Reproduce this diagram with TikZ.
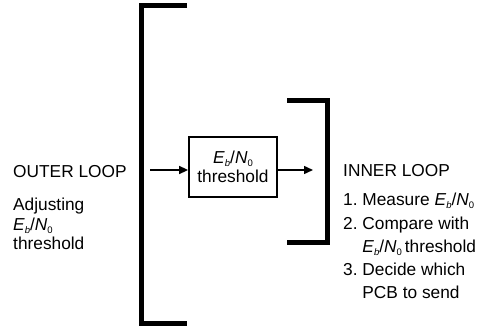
\documentclass[tikz,border=0pt]{standalone}
\usepackage{fontspec}
\setmainfont{Liberation Sans}
\usetikzlibrary{arrows.meta}
\frenchspacing
\newcommand\subsz{\fontsize{9.5}{9.5}\selectfont}
\newcommand\EbNo{\textit{E}\raisebox{-0.35ex}{\subsz\textit{b}}/\textit{N}\raisebox{-0.35ex}{\subsz 0}}
\tikzset{
  bracket/.style={line width=5pt, line cap=butt, line join=miter},
  lbl/.style={anchor=base west, inner sep=0pt, font=\fontsize{17.3}{20}\selectfont},
  blockbox/.style={draw, line width=1.8pt, minimum width=88pt, minimum height=60pt, inner sep=0pt, align=center, font=\fontsize{17.3}{20}\selectfont},
  arr/.style={line width=1.5pt, -{Triangle[length=9pt,width=8pt]}}
}
\begin{document}
\begin{tikzpicture}[x=1pt,y=-1pt]
\useasboundingbox (0,0) rectangle (482,326);
% outer bracket
\coordinate (ot) at (187,6);
\coordinate (ob) at (187,323);
\draw[bracket] (ot) -- (141.5,6) -- (141.5,323) -- (ob);
% inner bracket
\coordinate (it) at (287,101);
\coordinate (ib) at (287,242.5);
\draw[bracket] (it) -- (327,101) -- (327,242.5) -- (ib);
% box
\node[blockbox] (box) at (233,167) {\EbNo\\[-1pt]threshold};
\coordinate (in) at (150,170);
\coordinate (out) at (313,170);
\draw[arr] (in) -- (in -| box.west);
\draw[arr] (out -| box.east) -- (out);
% left text
\node[lbl] (ol) at (13,178) {OUTER LOOP};
\node[lbl] (l1) at (13,210) {Adjusting};
\node[lbl] (l2) at (13,230) {\EbNo};
\node[lbl] (l3) at (13,249) {threshold};
% right text
\node[lbl] (il) at (343,177) {INNER LOOP};
\node[lbl] (r1) at (343,205) {1. Measure \EbNo};
\node[lbl] (r2) at (343,229) {2. Compare with};
\node[lbl] (r3) at (343,252) {\phantom{2. }\EbNo\,threshold};
\node[lbl] (r4) at (343,275) {3. Decide which};
\node[lbl] (r5) at (343,298) {\phantom{3. }PCB to send};
\end{tikzpicture}
\end{document}
